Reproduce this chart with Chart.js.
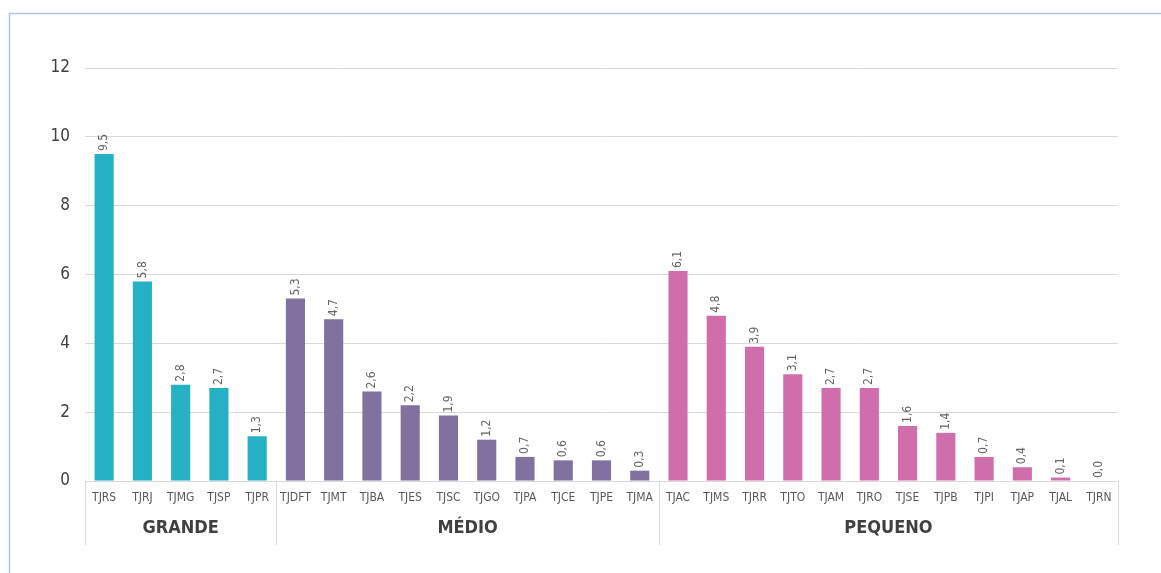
<!DOCTYPE html>
<html>
<head>
<meta charset="utf-8">
<script src="https://cdn.jsdelivr.net/npm/chart.js@4"></script>
<style>
  html, body { margin: 0; padding: 0; background: #fff; }
  #wrap { width: 1161px; height: 573px; position: relative; }
</style>
</head>
<body>
<div id="wrap"><canvas id="chart" width="1161" height="573"></canvas></div>
<script>
const labels = ['TJRS', 'TJRJ', 'TJMG', 'TJSP', 'TJPR',
  'TJDFT', 'TJMT', 'TJBA', 'TJES', 'TJSC', 'TJGO', 'TJPA', 'TJCE', 'TJPE', 'TJMA',
  'TJAC', 'TJMS', 'TJRR', 'TJTO', 'TJAM', 'TJRO', 'TJSE', 'TJPB', 'TJPI', 'TJAP', 'TJAL', 'TJRN'];
const values = [9.5, 5.8, 2.8, 2.7, 1.3,
  5.3, 4.7, 2.6, 2.2, 1.9, 1.2, 0.7, 0.6, 0.6, 0.3,
  6.1, 4.8, 3.9, 3.1, 2.7, 2.7, 1.6, 1.4, 0.7, 0.4, 0.1, 0.0];
const groupNames = ['GRANDE', 'MÉDIO', 'PEQUENO'];
const groupSizes = [5, 10, 12];
const groupColors = ['#26b0c4', '#81719e', '#cf6eab'];
const yTicks = [0, 2, 4, 6, 8, 10, 12];

const FONT = '"DejaVu Sans Condensed", "Liberation Sans Narrow", Arial, sans-serif';

// colour per bar from its group
const barColors = [];
groupSizes.forEach((n, g) => { for (let i = 0; i < n; i++) barColors.push(groupColors[g]); });

const fmt = v => v.toFixed(1).replace('.', ',');

const extras = {
  id: 'extras',
  beforeDraw(chart) {
    const { ctx } = chart;
    ctx.save();
    ctx.strokeStyle = '#b4c3de';
    ctx.lineWidth = 1.5;
    ctx.beginPath();
    ctx.moveTo(9.5, 573);
    ctx.lineTo(9.5, 13.5);
    ctx.lineTo(1161, 13.5);
    ctx.stroke();
    ctx.restore();
  },
  afterDatasetsDraw(chart) {
    const { ctx, chartArea } = chart;
    const xs = chart.scales.x;
    const meta = chart.getDatasetMeta(0);
    ctx.save();
    // value labels, rotated
    ctx.fillStyle = '#666666';
    ctx.font = '12px ' + FONT;
    ctx.textAlign = 'left';
    ctx.textBaseline = 'middle';
    meta.data.forEach((bar, i) => {
      ctx.save();
      ctx.translate(bar.x, bar.y - 3);
      ctx.rotate(-Math.PI / 2);
      ctx.fillText(fmt(values[i]), 0, 0);
      ctx.restore();
    });
    // group separators and names
    const bottom = chartArea.bottom;
    ctx.strokeStyle = '#d9d9d9';
    ctx.lineWidth = 1;
    let start = 0;
    const edges = [chartArea.left];
    groupSizes.forEach(n => {
      const end = start + n;
      if (end < labels.length) {
        edges.push((xs.getPixelForValue(end - 1) + xs.getPixelForValue(end)) / 2);
      } else {
        edges.push(chartArea.right);
      }
      start = end;
    });
    edges.forEach(x => {
      const px = Math.round(x) + 0.5;
      ctx.beginPath();
      ctx.moveTo(px, bottom);
      ctx.lineTo(px, bottom + 64);
      ctx.stroke();
    });
    ctx.fillStyle = '#404040';
    ctx.font = 'bold 18px ' + FONT;
    ctx.textAlign = 'center';
    groupNames.forEach((name, g) => {
      ctx.fillText(name, (edges[g] + edges[g + 1]) / 2, bottom + 47);
    });
    ctx.restore();
  }
};

new Chart(document.getElementById('chart'), {
  type: 'bar',
  data: {
    labels,
    datasets: [{
      data: values,
      backgroundColor: barColors,
      barPercentage: 0.5,
      categoryPercentage: 1
    }]
  },
  options: {
    responsive: false,
    animation: false,
    devicePixelRatio: 1,
    layout: { padding: { top: 68, right: 43, left: 0, bottom: 0 } },
    plugins: { legend: { display: false }, tooltip: { enabled: false } },
    scales: {
      x: {
        grid: { display: false, drawTicks: false },
        border: { display: true, color: '#d9d9d9' },
        ticks: { color: '#595959', font: { family: FONT, size: 12 }, padding: 10, maxRotation: 0, autoSkip: false },
        afterFit(scale) { scale.height = 92; }
      },
      y: {
        min: 0,
        max: 12,
        afterBuildTicks(scale) { scale.ticks = yTicks.map(v => ({ value: v })); },
        grid: { color: '#d9d9d9', drawTicks: false },
        border: { display: false },
        ticks: { color: '#404040', font: { family: FONT, size: 17 }, padding: 15 },
        afterFit(scale) { scale.width = 85; }
      }
    }
  },
  plugins: [extras]
});
</script>
</body>
</html>
